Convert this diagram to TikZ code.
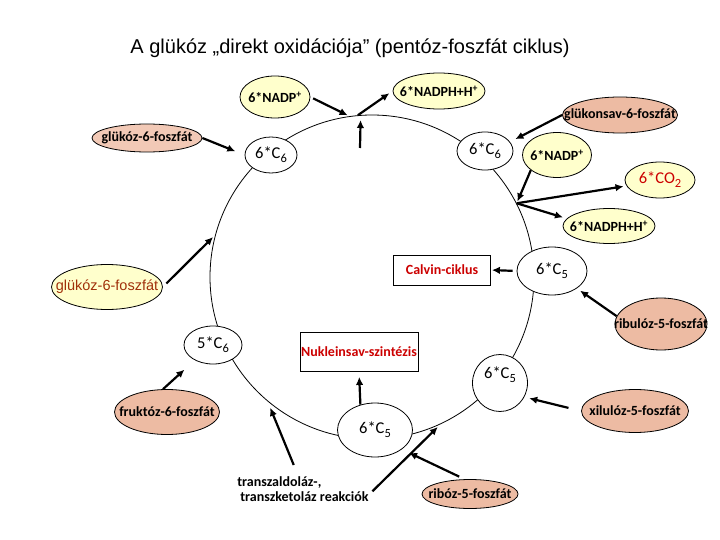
\documentclass[tikz,border=0pt]{standalone}
\usepackage{fontspec}
\setmainfont{Liberation Sans}
\newfontfamily\lblfont{Carlito}
\usetikzlibrary{arrows.meta,shapes.geometric,calc}
\definecolor{yel}{HTML}{FFFFCC}
\definecolor{salm}{HTML}{EDBBA3}
\definecolor{salmlt}{HTML}{F2C9B6}
\definecolor{redtxt}{HTML}{CC0000}
\definecolor{browntxt}{HTML}{A0300A}
\newcommand\lsub[1]{\raisebox{-0.5ex}{\fontsize{12.5}{12.5}\selectfont #1}}
\begin{document}
\begin{tikzpicture}[x=1pt,y=-1pt,
  thinline/.style={line width=0.8pt},
  yellell/.style={ellipse, draw, thinline, fill=yel, inner sep=0pt},
  salmell/.style={ellipse, draw, thinline, fill=salm, inner sep=0pt},
  cnode/.style={ellipse, draw, thinline, fill=white, inner sep=0pt},
  boxnode/.style={rectangle, draw, thinline, fill=white, inner sep=0pt},
  bt/.style={font=\lblfont\bfseries\fontsize{14}{15.5}\selectfont, inner sep=0pt},
  ct/.style={font=\lblfont\fontsize{16.5}{18}\selectfont, inner sep=0pt},
  arr/.style={line width=2.2pt, -{Latex[length=8pt,width=7.5pt]}},
]
\useasboundingbox (0,0) rectangle (720,540);
\node[font=\fontsize{20}{23}\selectfont, inner sep=0pt] (title) at (350,48) {A glükóz „direkt oxidációja” (pentóz-foszfát ciklus)};
\node[draw, circle, thinline, minimum size=324pt, inner sep=0pt] (cyc) at (372,277) {};

\node[yellell, minimum width=70pt, minimum height=42pt] (nadp1) at (275,97) {};
\node[bt] (nadp1t) at (nadp1) {6*NADP\textsuperscript{+}};
\node[yellell, minimum width=92pt, minimum height=36pt] (nadph1) at (439,91) {};
\node[bt] (nadph1t) at (nadph1) {6*NADPH+H\textsuperscript{+}};
\node[salmell, minimum width=115pt, minimum height=36pt] (glk) at (620,115) {};
\node[bt] (glkt) at (glk) {glükonsav-6-foszfát};
\node[salmell, fill=salmlt, minimum width=110pt, minimum height=28pt] (g6pT) at (147,138) {};
\node[bt] (g6pTt) at (g6pT) {glükóz-6-foszfát};
\node[cnode, minimum width=52pt, minimum height=36pt] (c6l) at (271,155) {};
\node[ct] (c6lt) at (c6l) {6*C\lsub{6}};
\node[cnode, minimum width=56pt, minimum height=38pt] (c6r) at (485,151) {};
\node[ct] (c6rt) at (c6r) {6*C\lsub{6}};
\node[yellell, minimum width=69pt, minimum height=45pt] (nadp2) at (557,155) {};
\node[bt] (nadp2t) at (nadp2) {6*NADP\textsuperscript{+}};
\node[yellell, minimum width=70pt, minimum height=36pt] (co2) at (660,180) {};
\node[ct, text=redtxt] (co2t) at (co2) {6*CO\lsub{2}};
\node[yellell, minimum width=92pt, minimum height=35pt] (nadph2) at (609,226) {};
\node[bt] (nadph2t) at (nadph2) {6*NADPH+H\textsuperscript{+}};
\node[boxnode, minimum width=97pt, minimum height=30pt] (calvin) at (442,270) {};
\node[bt, text=redtxt] (calvint) at (calvin) {Calvin-ciklus};
\node[cnode, minimum width=70pt, minimum height=48pt] (c5r) at (552,271) {};
\node[ct] (c5rt) at (c5r) {6*C\lsub{5}};
\node[salmell, minimum width=92pt, minimum height=52pt] (rib) at (661,324) {};
\node[bt] (ribt) at (rib) {ribulóz-5-foszfát};
\node[yellell, minimum width=111pt, minimum height=45pt] (g6pL) at (107,287) {};
\node[font=\fontsize{14.5}{16}\selectfont, text=browntxt, inner sep=0pt] (g6pLt) at (g6pL) {glükóz-6-foszfát};
\node[cnode, minimum width=58pt, minimum height=38pt] (c56) at (213,345) {};
\node[ct] (c56t) at (c56) {5*C\lsub{6}};
\node[boxnode, minimum width=118pt, minimum height=39pt] (nuk) at (359,352) {};
\node[bt, text=redtxt] (nukt) at (nuk) {Nukleinsav-szintézis};
\node[cnode, minimum width=55pt, minimum height=57pt] (c5lr) at (500,383) {};
\node[ct] (c5lrt) at (500,375) {6*C\lsub{5}};
\node[cnode, minimum width=75pt, minimum height=54pt] (c5b) at (375,430) {};
\node[ct] (c5bt) at (c5b) {6*C\lsub{5}};
\node[salmell, minimum width=105pt, minimum height=45pt] (fru) at (167,412) {};
\node[bt] (frut) at (fru) {fruktóz-6-foszfát};
\node[salmell, minimum width=107pt, minimum height=43pt] (xil) at (635,411) {};
\node[bt] (xilt) at (xil) {xilulóz-5-foszfát};
\node[salmell, minimum width=96pt, minimum height=29pt] (rib5) at (470,494) {};
\node[bt] (rib5t) at (rib5) {ribóz-5-foszfát};
\node[bt, align=left] (transz) at (303,489) {transzaldoláz-,\\\hspace{3pt}transzketoláz reakciók};
\coordinate (upst) at (360,148);

\draw[arr, shorten >=10pt] (g6pT.east) -- (c6l.west);
\draw[arr, shorten <=3pt, shorten >=2pt] (nadp1.east) -- (cyc.98.5);
\draw[arr, shorten >=4pt] (cyc.95) -- (nadph1.west);
\draw[arr, shorten >=5pt] (upst) -- (cyc.94.3);
\draw[arr, shorten >=6pt] (glk.west) -- (c6r.20);
\draw[arr, shorten >=2pt] (nadp2.210) -- (cyc.27.5);
\draw[arr, shorten >=3pt] (cyc.27.5) -- (co2.190);
\draw[arr, shorten >=4pt] (cyc.27.5) -- (nadph2.170);
\draw[arr, shorten <=4pt, shorten >=1pt] (c5r.west) -- (calvin.east);
\draw[arr, shorten >=4pt] (rib.170) -- (c5r.-35);
\draw[arr, shorten <=5pt, shorten >=3pt] (g6pL.east) -- (cyc.165.6);
\draw[arr, shorten >=14pt] (fru.100) -- (c56.220);
\draw[arr, shorten <=12pt, shorten >=7pt] (transz.110) -- (cyc.230);
\draw[arr, shorten <=5pt, shorten >=4pt] (transz.-5) -- (cyc.295.5);
\draw[arr, shorten <=6pt, shorten >=8pt] (rib5.110) -- (c5b.south east);
\draw[arr, shorten <=13pt, shorten >=5pt] (xil.west) -- (c5lr.-30);
\draw[arr, shorten >=5pt] (c5b.120) -- (nuk.south);
\end{tikzpicture}
\end{document}
